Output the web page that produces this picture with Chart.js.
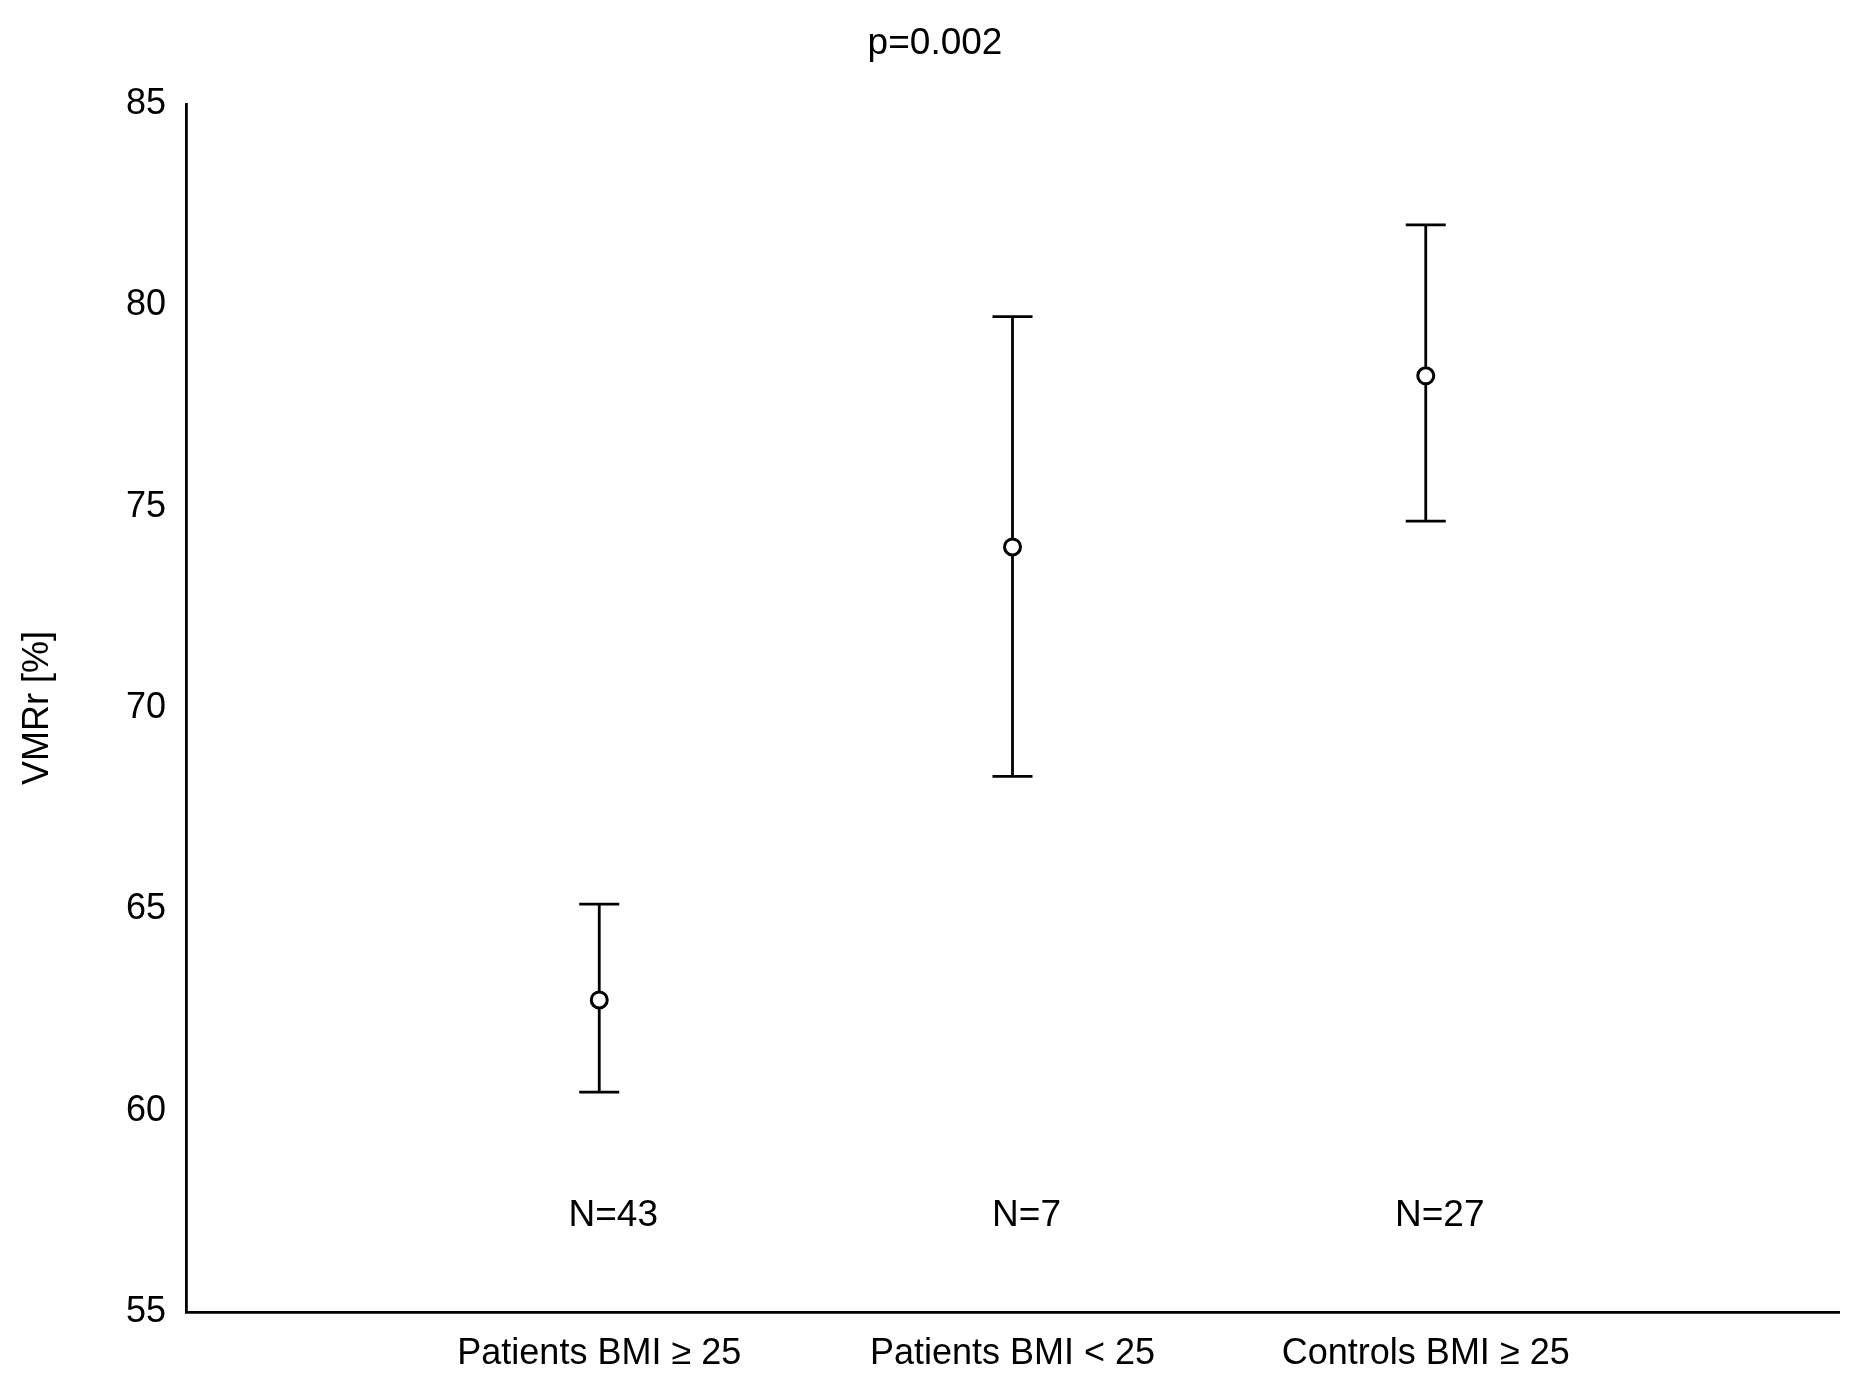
<!DOCTYPE html>
<html><head><meta charset="utf-8">
<script src="https://cdn.jsdelivr.net/npm/chart.js@4"></script>
<style>body{margin:0;background:#fff}</style>
</head><body>
<canvas id="c" width="1854" height="1400"></canvas>
<script>
const categories = ["Patients BMI \u2265 25", "Patients BMI < 25", "Controls BMI \u2265 25"];
const means = [62.75, 74.0, 78.25];
const upper = [65.13, 79.72, 82.0];
const lower = [60.46, 68.3, 74.64];
const nLabels = ["N=43", "N=7", "N=27"];
const nLabelY = 57.4;
const yTicks = [55, 60, 65, 70, 75, 80, 85];
const FONT = "'Liberation Sans', Arial, sans-serif";

const errPlugin = {
  id: 'err',
  afterDatasetsDraw(chart) {
    const ctx = chart.ctx, xs = chart.scales.x, ys = chart.scales.y;
    ctx.save();
    ctx.strokeStyle = '#000'; ctx.lineWidth = 2.8;
    means.forEach((m, i) => {
      const x = xs.getPixelForValue(i + 1);
      const yu = ys.getPixelForValue(upper[i]), yl = ys.getPixelForValue(lower[i]);
      const ym = ys.getPixelForValue(m);
      ctx.beginPath();
      ctx.moveTo(x, yu); ctx.lineTo(x, ym - 9);
      ctx.moveTo(x, ym + 9); ctx.lineTo(x, yl);
      ctx.moveTo(x - 20, yu); ctx.lineTo(x + 20, yu);
      ctx.moveTo(x - 20, yl); ctx.lineTo(x + 20, yl);
      ctx.stroke();
    });
    ctx.fillStyle = '#000'; ctx.font = '37px ' + FONT;
    ctx.textAlign = 'center'; ctx.textBaseline = 'middle';
    nLabels.forEach((t, i) => {
      ctx.fillText(t, xs.getPixelForValue(i + 1) + 14, ys.getPixelForValue(nLabelY));
    });
    ctx.fillText('p=0.002', 935, 44);
    ctx.restore();
  }
};

new Chart(document.getElementById('c'), {
  type: 'scatter',
  data: { datasets: [{
    data: means.map((m, i) => ({ x: i + 1, y: m })),
    pointRadius: 8, pointBorderWidth: 3, pointBorderColor: '#000',
    pointBackgroundColor: 'rgba(0,0,0,0)', pointHoverRadius: 8
  }]},
  options: {
    responsive: false, animation: false,
    plugins: { legend: { display: false }, tooltip: { enabled: false } },
    layout: { padding: { top: 104, right: 15, left: 12, bottom: 0 } },
    scales: {
      x: {
        type: 'linear', min: 0, max: 4,
        afterBuildTicks: s => { s.ticks = [1, 2, 3].map(v => ({ value: v })); },
        afterFit: s => { s.height = 88; },
        grid: { display: false, drawTicks: false },
        border: { display: true, color: '#000', width: 2.8 },
        ticks: { color: '#000', font: { size: 36, family: FONT }, padding: 20,
          callback: (v) => categories[v - 1] || '' }
      },
      y: {
        min: 55, max: 85,
        afterBuildTicks: s => { s.ticks = yTicks.map(v => ({ value: v })); },
        afterFit: s => { s.width = 174; },
        grid: { display: false, drawOnChartArea: false, drawTicks: true, tickLength: 6, color: '#000' },
        border: { display: true, color: '#000', width: 2.8 },
        title: { display: true, text: 'VMRr [%]', color: '#000', font: { size: 36, family: FONT }, padding: { bottom: 22 } },
        ticks: { color: '#000', font: { size: 36, family: FONT }, padding: 14 }
      }
    }
  },
  plugins: [errPlugin]
});
</script>
</body></html>
